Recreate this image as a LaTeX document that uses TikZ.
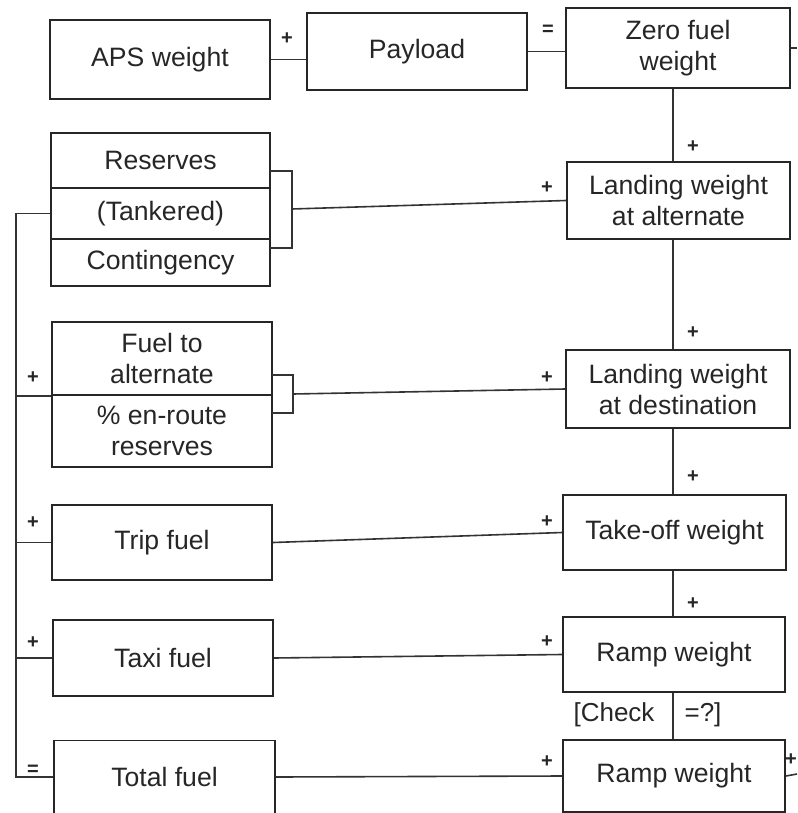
\documentclass[tikz,border=0pt]{standalone}
\usepackage{fontspec}
\setmainfont{Liberation Sans}
\begin{document}
\begin{tikzpicture}[x=0.5pt,y=-0.5pt,
  box/.style={draw=black!85, line width=0.9pt, inner sep=0pt, align=center,
    font=\fontsize{13.3}{15.5}\selectfont, text=black!85},
  ln/.style={draw=black!80, line width=0.8pt},
  sgn/.style={font=\fontsize{10}{12}\selectfont\bfseries, inner sep=0pt, text=black!85},
  txt/.style={font=\fontsize{13}{15}\selectfont, inner sep=0pt, text=black!85}]
\useasboundingbox (0,0) rectangle (797,813);

% top row
\node[box, minimum width=110pt, minimum height=39.5pt] (aps) at (160,59.5) {APS weight};
\node[box, minimum width=110pt, minimum height=38.5pt] (pay) at (417,51.5) {Payload};
\node[box, minimum width=112pt, minimum height=40pt] (zfw) at (678,48) {Zero fuel\\weight};

% right column
\node[box, minimum width=111.5pt, minimum height=38.5pt] (lwa) at (678.5,200.5) {Landing weight\\at alternate};
\node[box, minimum width=112pt, minimum height=39pt] (lwd) at (678,389) {Landing weight\\at destination};
\node[box, minimum width=111.5pt, minimum height=37.5pt] (tow) at (674.5,532.5) {Take-off weight};
\node[box, minimum width=111pt, minimum height=37.5pt] (rw1) at (674,654.5) {Ramp weight};
\node[box, minimum width=111pt, minimum height=36pt] (rw2) at (674,776) {Ramp weight};

% left column
\node[box, minimum width=109.5pt, minimum height=27.5pt] (res) at (160.5,160.5) {Reserves};
\node[box, minimum width=109.5pt, minimum height=25.5pt] (tank) at (160.5,213.5) {(Tankered)};
\node[box, minimum width=109.5pt, minimum height=23.5pt] (cont) at (160.5,262.5) {Contingency};
\node[box, minimum width=110pt, minimum height=36.5pt] (fta) at (162,358.5) {Fuel to\\alternate};
\node[box, minimum width=110pt, minimum height=36pt] (enr) at (162,431) {\% en-route\\reserves};
\node[box, minimum width=110pt, minimum height=37.5pt] (trip) at (162,542.5) {Trip fuel};
\node[box, minimum width=110pt, minimum height=38pt] (taxi) at (163,658) {Taxi fuel};
\node[box, minimum width=110.5pt, minimum height=36.5pt] (tot) at (164.5,777) {Total fuel};

% top row connectors
\draw[ln] (aps.east) -- (aps.east -| pay.west);
\draw[ln] (pay.east) -- (pay.east -| zfw.west);
\node[sgn] (s1) at (287,39) {+};
\node[sgn] (s2) at (548,30) {=};

% right spine
\coordinate (sp) at (673,0);
\draw[ln] (zfw.south -| sp) -- (lwa.north -| sp);
\draw[ln] (lwa.south -| sp) -- (lwd.north -| sp);
\draw[ln] (lwd.south -| sp) -- (tow.north -| sp);
\draw[ln] (tow.south -| sp) -- (rw1.north -| sp);
\draw[ln] (rw1.south -| sp) -- (rw2.north -| sp);
\node[sgn] (v1) at (693,147) {+};
\node[sgn] (v2) at (693,333) {+};
\node[sgn] (v3) at (693,477) {+};
\node[sgn] (v4) at (693,604) {+};

% check
\node[txt] (chk) at (614,715) {[Check};
\node[txt] (q) at (703,715) {=?]};

% reserves bracket
\coordinate (rbT) at (270,171);
\coordinate (rbB) at (270,248);
\coordinate (rbM) at (292,209);
\draw[ln] (rbT) -| (rbB -| rbM) -- (rbB);
\draw[ln] (rbM) -- (lwa.west);

% fuel to alternate bracket
\coordinate (fbT) at (272,375);
\coordinate (fbB) at (272,413);
\coordinate (fbM) at (293,394);
\draw[ln] (fbT) -| (fbB -| fbM) -- (fbB);
\draw[ln] (fbM) -- (lwd.west);

% left spine
\coordinate (lsT) at (16,215);
\coordinate (lsB) at (16,777);
\draw[ln] (tank.west) -- (tank.west -| lsT) -- (lsB) -- (tot.west);
\draw[ln] (fta.south west -| lsT) -- (fta.south west);
\draw[ln] (trip.west -| lsT) -- (trip.west);
\draw[ln] (taxi.west -| lsT) -- (taxi.west);
\node[sgn] (l1) at (33,378) {+};
\node[sgn] (l2) at (33,523) {+};
\node[sgn] (l3) at (33,643) {+};
\node[sgn] (l4) at (33,770) {=};

% horizontal connectors to right column
\draw[ln] (trip.east) -- (tow.west);
\draw[ln] (taxi.east) -- (rw1.west);
\draw[ln] (tot.east) -- (rw2.west);
\node[sgn] (h1) at (547,188) {+};
\node[sgn] (h2) at (547,378) {+};
\node[sgn] (h3) at (547,522) {+};
\node[sgn] (h4) at (547,642) {+};
\node[sgn] (h5) at (547,762) {+};

% right stubs
\coordinate (zr) at (797,48);
\draw[ln] (zfw.east) -- (zr);
\coordinate (rr) at (797,774);
\draw[ln] (rw2.east) -- (rr);
\node[sgn] (r1) at (791,760) {+};
\end{tikzpicture}
\end{document}
